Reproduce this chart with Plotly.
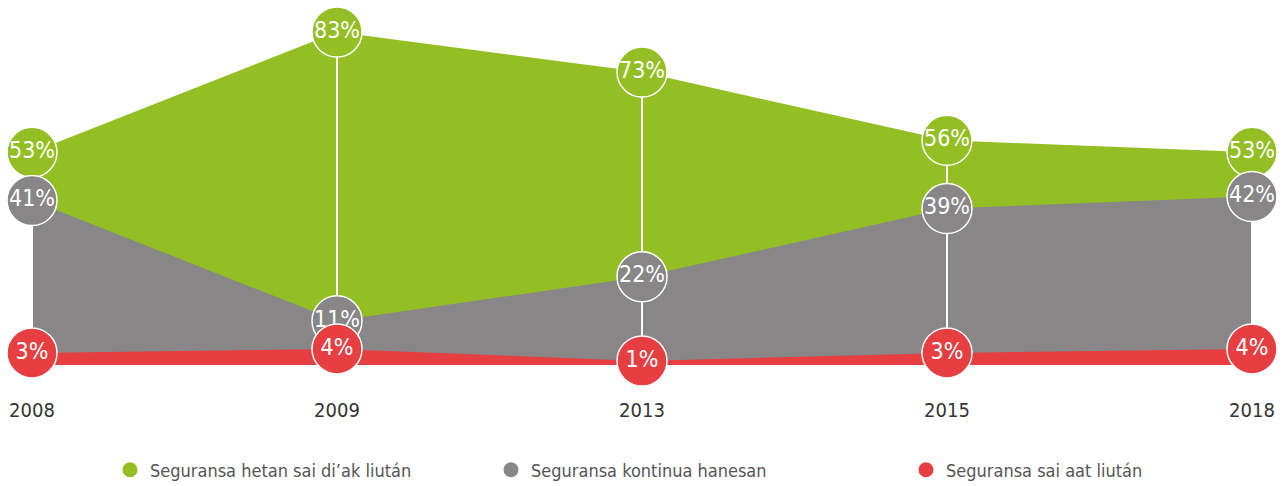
import plotly.graph_objects as go

years = ["2008", "2009", "2013", "2015", "2018"]
better = [53, 83, 73, 56, 53]
same = [41, 11, 22, 39, 42]
worse = [3, 4, 1, 3, 4]

names = ["Seguransa hetan sai di’ak liután", "Seguransa kontinua hanesan", "Seguransa sai aat liután"]
colors = ["#93BF24", "#888687", "#E73E41"]
series = [better, same, worse]

FONT = "DejaVu Sans Condensed, Liberation Sans Narrow, Arial Narrow, sans-serif"

fig = go.Figure()

# areas
for vals, col in zip(series, colors):
    fig.add_trace(go.Scatter(x=years, y=vals, mode="lines", line=dict(width=0, color=col),
                             fill="tozeroy", fillcolor=col, showlegend=False, hoverinfo="skip"))

# white connector lines
for i, yr in enumerate(years):
    fig.add_trace(go.Scatter(x=[yr, yr], y=[worse[i], better[i]], mode="lines",
                             line=dict(color="white", width=2), showlegend=False,
                             hoverinfo="skip", cliponaxis=False))

# circles with labels
for vals, col in zip(series, colors):
    fig.add_trace(go.Scatter(x=years, y=vals, mode="markers+text",
                             marker=dict(size=50, color=col, line=dict(color="white", width=1.5)),
                             text=[f"{v}%" for v in vals], textposition="middle center",
                             textfont=dict(family=FONT, size=23, color="white"),
                             showlegend=False, cliponaxis=False, hoverinfo="skip"))

# legend entries
legend_x = [110, 491, 906]
for k, (nm, col) in enumerate(zip(names, colors)):
    fig.add_trace(go.Scatter(x=[None], y=[None], mode="markers", name=nm,
                             marker=dict(size=15, color=col),
                             legend="legend" if k == 0 else f"legend{k+1}"))

W, H = 1288, 486
legend_common = dict(orientation="h", xref="container", yref="container",
                     yanchor="middle", xanchor="left", bgcolor="rgba(0,0,0,0)",
                     font=dict(family=FONT, size=18, color="#555555"))
LY = 1 - 470 / H
fig.update_layout(
    width=W, height=H,
    margin=dict(l=32, r=36, t=20, b=121, autoexpand=False),
    paper_bgcolor="white", plot_bgcolor="white",
    hovermode=False,
    xaxis=dict(type="category", range=[0, 4], showgrid=False, zeroline=False, showline=False,
               ticks="", ticklabelstandoff=31, automargin=False,
               tickfont=dict(family=FONT, size=20, color="#333333")),
    yaxis=dict(range=[0, 345 / 4.012], visible=False, showgrid=False, automargin=False),
    legend=dict(x=legend_x[0] / W, y=LY, **legend_common),
    legend2=dict(x=legend_x[1] / W, y=LY, **legend_common),
    legend3=dict(x=legend_x[2] / W, y=LY, **legend_common),
)

fig.write_html("out.html", config={"displayModeBar": False},
               post_script="document.body.style.margin='0';document.body.style.padding='0';")
